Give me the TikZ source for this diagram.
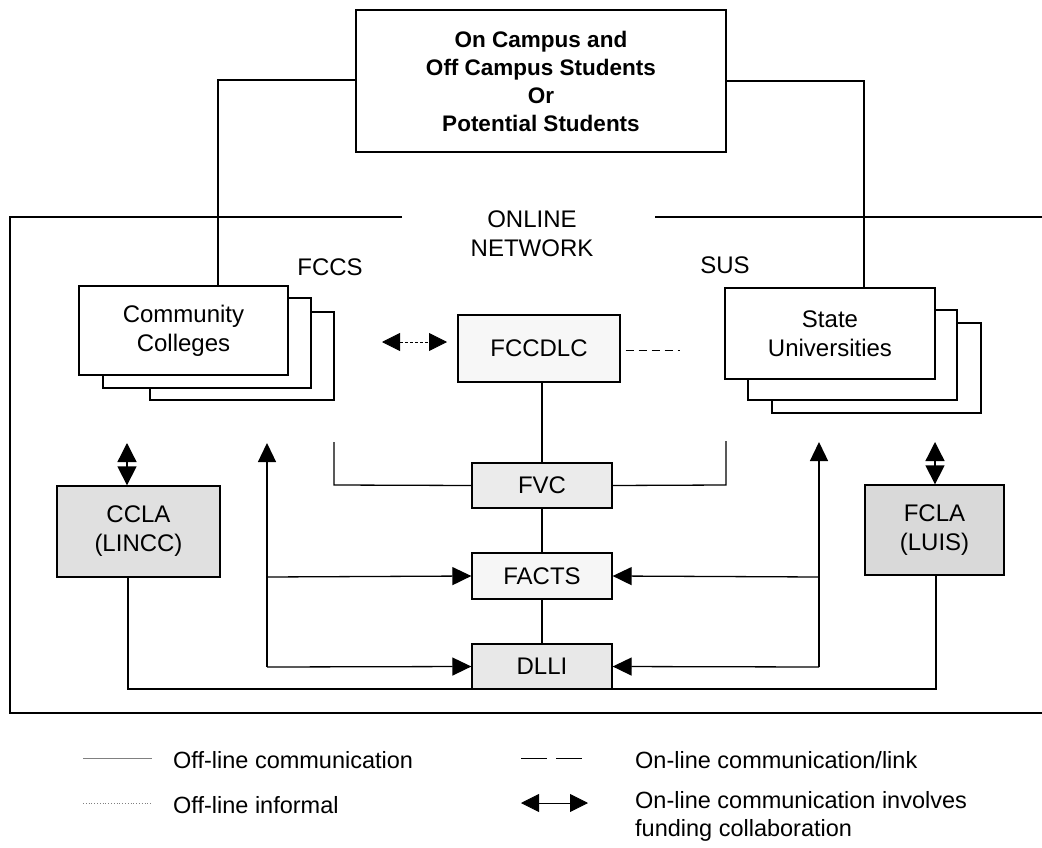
\documentclass[tikz,border=0pt]{standalone}
\usepackage{fontspec}
\setmainfont{Liberation Sans}
\usetikzlibrary{arrows.meta}
\begin{document}
\begin{tikzpicture}[x=1pt,y=-1pt,
  every node/.style={font=\fontsize{24}{29}\selectfont, inner sep=0pt},
  ln/.style={line width=1.3pt, line join=miter},
  box/.style={draw, line width=1.3pt, fill=white, align=center},
  tip/.style={-{Triangle[length=19pt,width=18pt]}},
  tips/.style={{Triangle[length=18pt,width=18pt]}-{Triangle[length=18pt,width=18pt]}},
  lbl/.style={anchor=west, font=\fontsize{23.5}{28}\selectfont}
]
\useasboundingbox (0,0) rectangle (1042,848);

% top box
\node[box, minimum width=370, minimum height=142,
  font=\fontsize{22.5}{28}\selectfont\bfseries] (top) at (541,81)
  {On Campus and\\Off Campus Students\\Or\\Potential Students};

% network frame
\draw[ln] (402,217) -- (10,217) -- (10,713) -- (1042,713);
\draw[ln] (655,217) -- (1042,217);
\node[align=center] (online) at (532,234) {ONLINE\\NETWORK};
\node (fccs) at (330,267) {FCCS};
\node (sus) at (725,265) {SUS};

% community colleges stack
\node[box, minimum width=184, minimum height=88] (cc3) at (242,356) {};
\node[box, minimum width=208, minimum height=90] (cc2) at (207,343) {};
\node[box, minimum width=209, minimum height=89] (cc) at (183.5,330.5) {Community\\Colleges};

% state universities stack
\node[box, minimum width=209, minimum height=90] (su3) at (876.5,368) {};
\node[box, minimum width=209, minimum height=90] (su2) at (852.5,355) {};
\node[box, minimum width=210, minimum height=91] (su) at (830,333.5) {State\\Universities};

% centre column
\node[box, fill=gray!6, minimum width=162, minimum height=67] (fccdlc) at (539,348.5) {FCCDLC};
\node[box, fill=gray!16, minimum width=140, minimum height=45] (fvc) at (542,485.5) {FVC};
\node[box, fill=gray!7, minimum width=140, minimum height=46] (facts) at (542,576) {FACTS};
\node[box, fill=gray!18, minimum width=140, minimum height=45] (dlli) at (542,666.5) {DLLI};

% libraries
\node[box, fill=gray!24, minimum width=163, minimum height=91] (ccla) at (138.5,531.5) {CCLA\\(LINCC)};
\node[box, fill=gray!30, minimum width=139, minimum height=90] (fcla) at (934.5,530) {FCLA\\(LUIS)};

% top connectors
\draw[ln] (top.west |- 0,80) -- (218,80) -- (cc.north -| 218,0);
\draw[ln] (top.east |- 0,81) -- (864,81) -- (su.north -| 864,0);

% FCCDLC links
\coordinate (fl) at (382,342);
\coordinate (fr) at (447,342);
\draw[tips, line width=0.8pt, densely dashed] (fl) -- (fr);
\coordinate (dr) at (680,350);
\draw[line width=1pt, dash pattern=on 8pt off 5pt] (fccdlc.east |- dr) ++(5,0) -- (dr);
\draw[ln] (fccdlc.south -| 542,0) -- (fvc.north);
\draw[ln] (fvc.south) -- (facts.north);
\draw[ln] (facts.south) -- (dlli.north);

% colleges/universities to FVC
\coordinate (ccl) at (334,442);
\coordinate (sul) at (726,441);
\draw[ln] (ccl) -- (334,485) -- (fvc.west);
\draw[ln] (sul) -- (726,485) -- (fvc.east);

% arrow columns
\coordinate (la) at (267,443);
\coordinate (ra) at (819,442);
\draw[ln, tip] (267,667) -- (la);
\draw[ln, tip] (267,577) -- (facts.west);
\draw[ln, tip] (267,667) -- (dlli.west);
\draw[ln, tip] (819,667) -- (ra);
\draw[ln, tip] (819,577) -- (facts.east);
\draw[ln, tip] (819,667) -- (dlli.east);

% library double arrows
\coordinate (cclaT) at (127,443);
\coordinate (fclaT) at (935,442);
\draw[ln, {Triangle[length=19pt,width=19pt]}-{Triangle[length=19pt,width=19pt]}] (cclaT) -- (ccla.north -| cclaT);
\draw[ln, {Triangle[length=19pt,width=19pt]}-{Triangle[length=19pt,width=19pt]}] (fclaT) -- (fcla.north -| fclaT);

% bottom line
\draw[ln] (ccla.south -| 128,0) -- (128,689) -- (936,689) -- (fcla.south -| 936,0);

% legend
\coordinate (l1a) at (83,758); \coordinate (l1b) at (152,758);
\draw[gray, line width=0.8pt] (l1a) -- (l1b);
\node[lbl] (t1) at (173,760) {Off-line communication};
\coordinate (l2a) at (83,803); \coordinate (l2b) at (152,803);
\draw[gray, line width=0.8pt, dotted] (l2a) -- (l2b);
\node[lbl] (t2) at (173,805) {Off-line informal};
\coordinate (l3a) at (521,758); \coordinate (l3b) at (588,758);
\draw[line width=0.9pt, dash pattern=on 26pt off 9pt] (l3a) -- (l3b);
\node[lbl] (t3) at (635,760) {On-line communication/link};
\coordinate (l4a) at (521,803); \coordinate (l4b) at (588,803);
\draw[line width=0.8pt, tips] (l4a) -- (l4b);
\node[lbl, align=left, anchor=north west] (t4) at (635,791) {On-line communication involves\\funding collaboration};
\end{tikzpicture}
\end{document}
